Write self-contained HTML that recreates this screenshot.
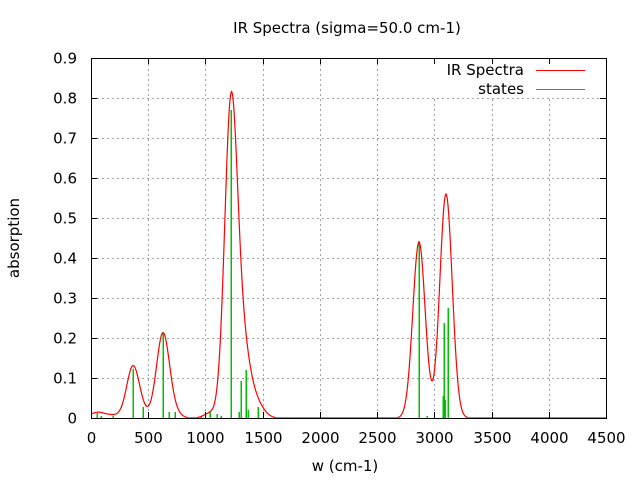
<!DOCTYPE html>
<html><head><meta charset="utf-8"><style>body{margin:0;background:#fff}svg{display:block}text{font-family:"DejaVu Sans","Liberation Sans",sans-serif;font-size:15px;fill:#000}</style></head>
<body>
<svg id="s" width="640" height="480" xmlns="http://www.w3.org/2000/svg">
<rect width="640" height="480" fill="#fff"/>
<g id="grid" stroke="#a0a0a0" stroke-width="1" stroke-dasharray="2,3" shape-rendering="crispEdges"></g>
<rect x="425" y="59" width="180" height="38" fill="#fff"/>
<g id="sticks" stroke="#00c000" stroke-width="1.5" shape-rendering="crispEdges"></g>
<path id="curve" fill="none" stroke="#ff0000" stroke-width="1.2"/>
<rect x="91.5" y="58.5" width="515" height="360" fill="none" stroke="#000" stroke-width="1" shape-rendering="crispEdges"/>
<g id="ticks" stroke="#000" stroke-width="1" shape-rendering="crispEdges"></g>
<g id="lab"></g>
<text x="347" y="33" text-anchor="middle">IR Spectra (sigma=50.0 cm-1)</text>
<text x="345" y="471" text-anchor="middle">w (cm-1)</text>
<text transform="translate(19,238) rotate(-90)" text-anchor="middle">absorption</text>
<text x="524" y="75" text-anchor="end">IR Spectra</text>
<text x="524" y="94" text-anchor="end">states</text>
<line x1="536" y1="70.5" x2="585" y2="70.5" stroke="#ff0000" stroke-width="1" shape-rendering="crispEdges"/>
<line x1="536" y1="89.5" x2="585" y2="89.5" stroke="#00c000" stroke-width="1" shape-rendering="crispEdges"/>
</svg>
<script>
const NS="http://www.w3.org/2000/svg";
function el(p,t,a,txt){const e=document.createElementNS(NS,t);for(const k in a)e.setAttribute(k,a[k]);if(txt!==undefined)e.textContent=txt;p.appendChild(e);return e;}
const X=v=>91+v*515/4500, Y=v=>418-v*400;
const g=document.getElementById('grid'),tk=document.getElementById('ticks'),lb=document.getElementById('lab');
for(let i=0;i<=9;i++){const x=Math.round(X(i*500))+0.5;
 if(i>0&&i<9)el(g,'line',{x1:x,y1:59,x2:x,y2:418});
 el(tk,'line',{x1:x,y1:418,x2:x,y2:412});el(tk,'line',{x1:x,y1:58,x2:x,y2:64});
 el(lb,'text',{x:x,y:443,'text-anchor':'middle'},String(i*500));}
for(let i=0;i<=9;i++){const y=Math.round(Y(i/10))+0.5;
 if(i>0&&i<9)el(g,'line',{x1:92,y1:y,x2:605,y2:y});
 el(tk,'line',{x1:91,y1:y,x2:97,y2:y});el(tk,'line',{x1:606,y1:y,x2:600,y2:y});
 el(lb,'text',{x:77,y:y+5,'text-anchor':'end'},i==0?'0':(i/10).toFixed(1));}
const st=[[97,413],[101,416],[113,416],[133,369],[143,407],[163,333],[169,412],[175,412],[201,416],[210,412],[217,414],[221,416],[231,110],[239,412],[241,381],[246,370],[248,410],[258,407],[419,241],[427,416],[443,396],[444,323],[445,400],[448,308]];
const sg=document.getElementById('sticks');
st.forEach(s=>el(sg,'line',{x1:s[0],y1:418,x2:s[0],y2:s[1]}));
const comp=[[97,0.013,7],[113,0.007,9],[133,0.128,6.3],[143,0.01,6],[163,0.212,6.5],[175,0.01,6],[210,0.012,6],[231,0.775,6.4],[241,0.11,6.5],[247,0.075,6.8],[258,0.028,7],[419,0.44,6.2],[446,0.56,6.2]];
let d='';
for(let x=91;x<=606;x+=0.5){let v=0;comp.forEach(c=>{v+=c[1]*Math.exp(-((x-c[0])**2)/(2*c[2]*c[2]));});
 if(v<0.0015)v=0; if(x<96)v=Math.max(v,0.008);
 d+=(d?'L':'M')+x.toFixed(1)+' '+Y(v).toFixed(2);}
document.getElementById('curve').setAttribute('d',d);
</script>
</body></html>
